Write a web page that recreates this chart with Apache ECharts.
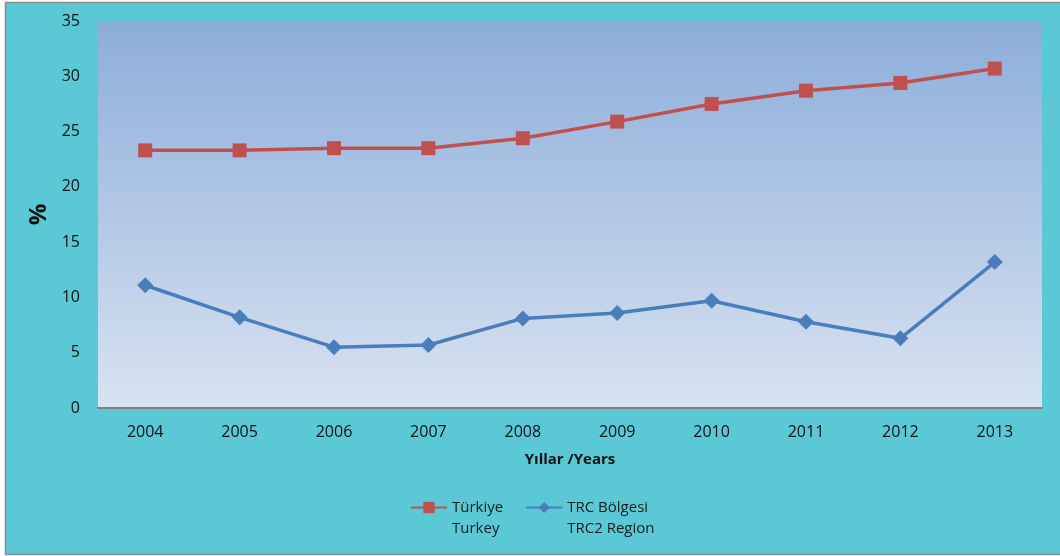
<!DOCTYPE html>
<html>
<head>
<meta charset="utf-8">
<script src="https://cdn.jsdelivr.net/npm/echarts@6/dist/echarts.min.js"></script>
<style>
  html, body { margin: 0; padding: 0; background: #fff; }
  #main { width: 1060px; height: 556px; }
</style>
</head>
<body>
<div id="main"></div>
<script>
// 数据
const years = ['2004', '2005', '2006', '2007', '2008', '2009', '2010', '2011', '2012', '2013']
const turkey = [23.3, 23.3, 23.5, 23.5, 24.4, 25.9, 27.5, 28.7, 29.4, 30.7]
const trc2 = [11.1, 8.2, 5.5, 5.7, 8.1, 8.6, 9.7, 7.8, 6.3, 13.2]
const seriesNames = ['Türkiye\nTurkey', 'TRC Bölgesi\nTRC2 Region']

const font = 'Open Sans'
const chart = echarts.init(document.getElementById('main'))
const option = {
  backgroundColor: '#fff',
  animation: false,
  textStyle: { fontFamily: font },
  graphic: [{
    type: 'rect',
    z: -10,
    shape: { x: 5.5, y: 2.5, width: 1060, height: 552 },
    style: { fill: '#5BC8D6', stroke: '#8a8a8a', lineWidth: 1.5 }
  }],
  grid: {
    show: true,
    left: 98,
    right: 18,
    top: 21,
    bottom: 148,
    borderWidth: 0,
    backgroundColor: new echarts.graphic.LinearGradient(0, 0, 0, 1, [
      { offset: 0, color: '#8CADDA' },
      { offset: 1, color: '#D8E3F1' }
    ])
  },
  legend: {
    left: 405,
    top: 471,
    itemGap: 22,
    itemWidth: 36,
    itemHeight: 14,
    // 空行使图标与第一行文字对齐
    formatter: name => '\u00a0\n' + name,
    textStyle: {
      fontFamily: font,
      fontSize: 15,
      color: '#1a1a1a',
      lineHeight: 21
    },
    data: seriesNames
  },
  xAxis: {
    type: 'category',
    data: years,
    boundaryGap: true,
    name: 'Yıllar /Years',
    nameLocation: 'middle',
    nameGap: 44,
    nameTextStyle: { fontFamily: font, fontSize: 15, fontWeight: 'bold', color: '#111' },
    axisLine: { show: true, lineStyle: { color: '#7f7f7f', width: 2 } },
    axisTick: { show: false },
    axisLabel: { fontFamily: font, fontSize: 16, color: '#111', margin: 16 }
  },
  yAxis: {
    type: 'value',
    min: 0,
    max: 35,
    interval: 5,
    name: '%',
    nameLocation: 'middle',
    nameGap: 42,
    nameRotate: 90,
    nameTextStyle: { fontFamily: font, fontSize: 24, fontWeight: 'bold', color: '#111' },
    axisLine: { show: false },
    axisTick: { show: false },
    splitLine: { show: false },
    axisLabel: { fontFamily: font, fontSize: 16, color: '#111', margin: 18 }
  },
  series: [{
    name: seriesNames[0],
    type: 'line',
    symbol: 'rect',
    symbolSize: 14,
    color: '#C0504D',
    lineStyle: { width: 3.5, color: '#C0504D' },
    data: turkey
  }, {
    name: seriesNames[1],
    type: 'line',
    symbol: 'diamond',
    symbolSize: 16,
    color: '#4A7EBB',
    lineStyle: { width: 3.5, color: '#4A7EBB' },
    data: trc2
  }]
}
chart.setOption(option, true)
</script>
</body>
</html>
